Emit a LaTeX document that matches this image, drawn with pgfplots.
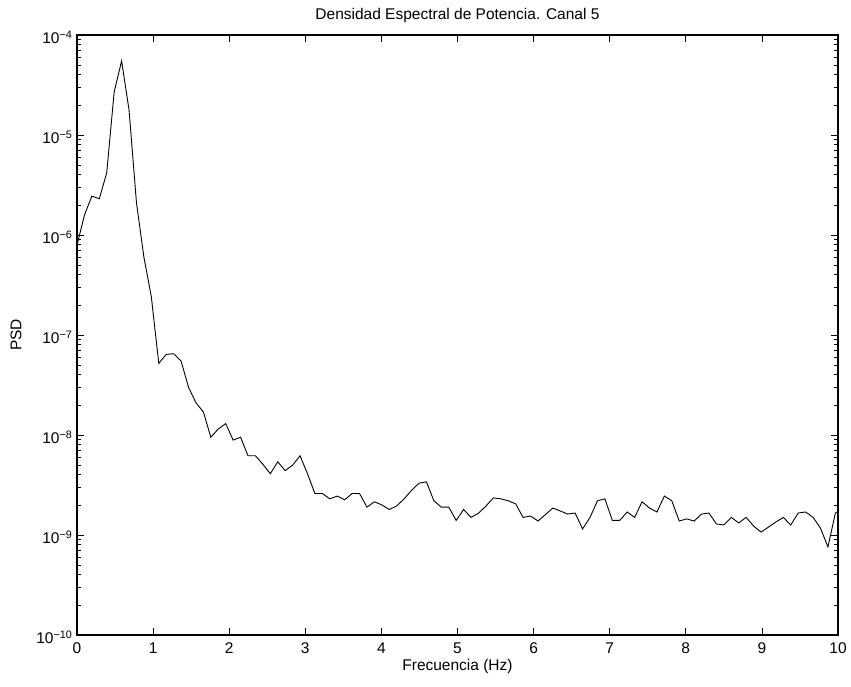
\documentclass[border=0pt]{standalone}
\usepackage{pgfplots}
\pgfplotsset{compat=1.18}
\usepackage{fontspec}
\setmainfont{Liberation Sans}
\begin{document}
\begin{tikzpicture}
\begin{axis}[name=ax, width=761pt, height=600pt, scale only axis,
  ymode=log, xmin=0, xmax=10, ymin=1e-10, ymax=1e-4,
  xtick={0,1,...,10}, ytick={1e-10,1e-9,1e-8,1e-7,1e-6,1e-5,1e-4},
  yticklabels={10\textsuperscript{−10},10\textsuperscript{−9},10\textsuperscript{−8},10\textsuperscript{−7},10\textsuperscript{−6},10\textsuperscript{−5},10\textsuperscript{−4}},
  tick align=inside, tick pos=both, major tick length=7pt, minor tick length=4pt,
  every tick/.style={black, line width=0.8pt}, axis line style={line width=1.2pt},
  /pgf/number format/assume math mode=true,
  tick label style={font=\fontsize{15.5}{18}\selectfont},
  xticklabel style={yshift=-4pt},
  yticklabel style={xshift=-1pt, yshift=-2pt},
  label style={font=\fontsize{15.5}{18}\selectfont},
  title style={font=\fontsize{15.5}{18}\selectfont, yshift=3pt},
  title={Densidad Espectral de Potencia. Canal 5},
  xlabel={Frecuencia (Hz)}, ylabel={PSD},
  xlabel style={yshift=1pt}, ylabel style={yshift=8pt},
  clip=true]
\addplot[black, line width=0.9pt] table[x expr=\thisrow{k}*0.0977, y=p] {
k p
0 7.9e-7
1 1.58e-6
2 2.45e-6
3 2.3e-6
4 4.2e-6
5 2.7e-5
6 5.5e-5
7 1.78e-5
8 2.1e-6
9 6e-7
10 2.4e-7
11 5.2e-8
12 6.4e-8
13 6.5e-8
14 5.5e-8
15 3e-8
16 2.1e-8
17 1.7e-8
18 9.5e-9
19 1.15e-8
20 1.3e-8
21 8.9e-9
22 9.5e-9
23 6.2e-9
24 6.2e-9
25 5.1e-9
26 4.1e-9
27 5.4e-9
28 4.4e-9
29 5e-9
30 6.2e-9
31 4.1e-9
32 2.6e-9
33 2.6e-9
34 2.3e-9
35 2.45e-9
36 2.25e-9
37 2.6e-9
38 2.6e-9
39 1.9e-9
40 2.15e-9
41 2e-9
42 1.8e-9
43 1.95e-9
44 2.3e-9
45 2.8e-9
46 3.3e-9
47 3.4e-9
48 2.2e-9
49 1.9e-9
50 1.9e-9
51 1.4e-9
52 1.8e-9
53 1.5e-9
54 1.65e-9
55 1.95e-9
56 2.35e-9
57 2.3e-9
58 2.2e-9
59 2.05e-9
60 1.5e-9
61 1.55e-9
62 1.38e-9
63 1.6e-9
64 1.86e-9
65 1.74e-9
66 1.62e-9
67 1.66e-9
68 1.15e-9
69 1.5e-9
70 2.2e-9
71 2.3e-9
72 1.4e-9
73 1.4e-9
74 1.7e-9
75 1.5e-9
76 2.15e-9
77 1.86e-9
78 1.7e-9
79 2.45e-9
80 2.2e-9
81 1.38e-9
82 1.45e-9
83 1.38e-9
84 1.62e-9
85 1.66e-9
86 1.29e-9
87 1.26e-9
88 1.5e-9
89 1.32e-9
90 1.5e-9
91 1.23e-9
92 1.07e-9
93 1.2e-9
94 1.35e-9
95 1.5e-9
96 1.26e-9
97 1.66e-9
98 1.7e-9
99 1.5e-9
100 1.17e-9
101 7.6e-10
102 1.66e-9
103 1.8e-9
};
\end{axis}
\pgfresetboundingbox
\path ([shift={(-77pt,-51pt)}]ax.south west) rectangle ([shift={(13pt,35pt)}]ax.north east);
\end{tikzpicture}
\end{document}
